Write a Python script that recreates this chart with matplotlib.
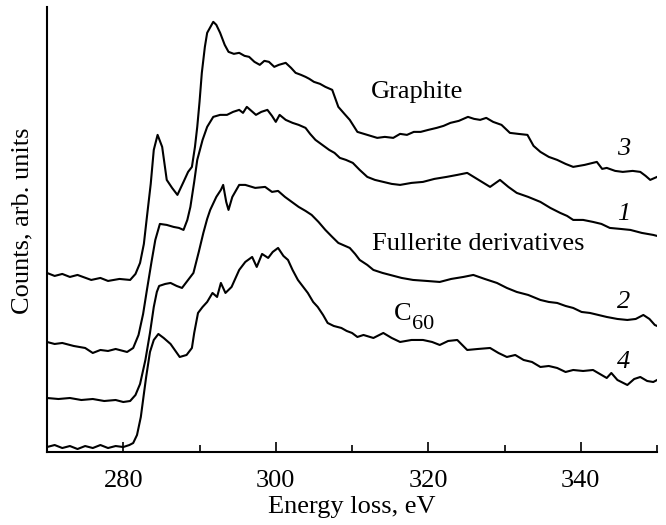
import matplotlib.pyplot as plt

plt.rcParams['font.family'] = ['Liberation Serif', 'DejaVu Serif']

# Spectra: energy loss (eV) and counts (arb. units, offset curves)
e4 = [270.0, 271.0, 272.0, 273.0, 274.0, 275.0, 276.0, 277.0, 278.0, 279.0, 280.0, 280.8, 281.3,
      281.8, 282.3, 282.7, 283.0, 283.5, 284.0, 284.6, 285.3, 286.2, 287.4, 288.3, 289.0, 289.3,
      289.8, 290.4, 291.0, 291.7, 292.3, 292.8, 293.4, 294.2, 295.2, 296.0, 296.9, 297.5, 298.2,
      299.0, 299.6, 300.3, 301.0, 301.6, 302.2, 302.9, 303.6, 304.2, 304.9, 305.5, 306.2, 306.8,
      307.6, 308.6, 309.3, 310.0, 310.7, 311.5, 312.8, 314.1, 315.2, 316.3, 317.8, 319.3, 320.5,
      321.5, 322.6, 323.8, 325.1, 326.5, 328.1, 329.2, 330.3, 331.4, 332.5, 333.6, 334.7, 335.8,
      336.9, 338.0, 339.0, 340.3, 341.6, 342.5, 343.4, 344.0, 344.8, 346.1, 347.0, 347.8, 348.7,
      349.5, 350.0]
c4 = [5, 7, 4, 6, 3, 6, 4, 7, 4, 6, 5, 7, 9, 17, 35, 58, 75, 100, 112, 118, 114, 108, 95, 97,
      104, 119, 139, 145, 150, 159, 155, 169, 159, 165, 182, 190, 195, 185, 198, 194, 200, 204,
      196, 192, 182, 172, 165, 159, 150, 145, 137, 129, 126, 124, 121, 119, 115, 117, 114, 119,
      114, 110, 112, 112, 110, 107, 111, 112, 102, 103, 104, 99, 95, 97, 92, 90, 85, 86, 84, 80,
      82, 81, 82, 78, 74, 79, 72, 67, 73, 75, 71, 70, 72]

e2 = [270.0, 271.5, 273.0, 274.5, 276.0, 277.5, 279.0, 280.0, 280.9, 281.6, 282.2, 282.9, 283.5,
      284.0, 284.4, 284.7, 285.5, 286.2, 287.0, 287.7, 288.5, 289.2, 289.9, 290.5, 291.0, 291.4,
      292.2, 292.8, 293.1, 293.5, 293.8, 294.3, 295.2, 296.0, 297.3, 298.6, 299.5, 300.3, 301.2,
      302.1, 303.0, 303.9, 304.7, 305.6, 306.5, 307.4, 308.2, 309.1, 309.7, 310.4, 311.0, 312.0,
      312.8, 314.0, 315.0, 316.5, 318.0, 319.8, 321.5, 323.0, 324.6, 325.9, 327.4, 329.0, 330.3,
      331.6, 333.1, 334.7, 335.8, 336.9, 338.0, 339.0, 340.1, 341.2, 342.3, 343.4, 344.8, 346.1,
      347.2, 348.2, 349.0, 349.7, 350.0]
c2 = [54, 53, 54, 52, 53, 51, 52, 50, 51, 57, 68, 92, 119, 145, 160, 166, 168, 169, 166, 164,
      172, 179, 200, 219, 233, 242, 255, 262, 267, 250, 242, 255, 267, 267, 264, 265, 260, 261,
      255, 250, 245, 241, 237, 230, 222, 215, 209, 206, 204, 198, 192, 187, 182, 179, 177, 174,
      172, 171, 170, 173, 175, 177, 173, 169, 164, 160, 157, 152, 150, 149, 146, 144, 140, 139,
      137, 135, 133, 132, 133, 137, 133, 127, 126]

e1 = [270.0, 271.0, 272.0, 273.5, 275.0, 276.0, 277.0, 278.0, 279.0, 280.5, 281.3, 282.0, 282.6,
      283.1, 283.7, 284.2, 284.8, 285.7, 286.6, 287.3, 287.9, 288.4, 288.8, 289.3, 289.7, 290.4,
      291.0, 291.8, 292.7, 293.6, 294.4, 295.2, 295.7, 296.2, 296.8, 297.4, 298.1, 298.9, 299.5,
      300.0, 300.5, 301.3, 302.2, 303.0, 303.9, 304.5, 305.2, 306.1, 307.0, 307.7, 308.4, 309.2,
      310.1, 311.0, 312.0, 313.0, 314.1, 315.2, 316.3, 317.8, 319.3, 320.8, 322.4, 323.8, 325.1,
      326.6, 328.1, 329.4, 330.5, 331.6, 333.1, 334.7, 336.0, 337.3, 338.2, 339.0, 340.3, 341.6,
      342.7, 343.8, 345.2, 346.5, 348.0, 349.5, 350.0]
c1 = [110, 108, 109, 106, 104, 99, 102, 101, 103, 100, 104, 117, 138, 162, 190, 212, 228, 227,
      225, 224, 222, 232, 245, 270, 292, 312, 325, 335, 337, 337, 340, 342, 339, 345, 341, 337,
      340, 342, 336, 330, 337, 332, 329, 327, 324, 318, 312, 307, 302, 299, 294, 292, 289, 282,
      275, 272, 270, 268, 267, 269, 270, 273, 275, 277, 279, 272, 265, 272, 265, 259, 255, 250,
      244, 239, 236, 232, 232, 230, 228, 224, 223, 222, 219, 217, 216]

e3 = [270.0, 271.0, 272.0, 273.0, 274.0, 275.8, 277.0, 278.0, 279.5, 280.9, 281.6, 282.2, 282.7,
      283.1, 283.6, 284.0, 284.5, 285.1, 285.7, 286.4, 287.1, 287.9, 288.5, 289.0, 289.4, 289.7,
      290.0, 290.3, 290.7, 291.0, 291.8, 292.2, 292.7, 293.3, 293.8, 294.5, 295.2, 295.9, 296.5,
      297.2, 297.9, 298.5, 299.1, 299.8, 300.4, 301.3, 302.0, 302.6, 303.3, 303.9, 304.4, 305.0,
      305.8, 306.5, 307.4, 308.2, 309.0, 309.7, 310.7, 312.0, 313.3, 314.3, 315.4, 316.3, 317.2,
      318.1, 319.0, 320.0, 321.1, 322.0, 322.9, 324.0, 325.2, 326.0, 326.8, 327.6, 328.5, 329.6,
      330.7, 331.8, 333.0, 333.8, 334.7, 335.8, 336.9, 338.0, 339.0, 340.5, 342.1, 342.8, 343.4,
      344.5, 345.5, 346.8, 347.8, 348.5, 349.1, 350.0]
c3 = [179, 176, 178, 175, 177, 172, 174, 171, 173, 172, 178, 189, 208, 235, 268, 302, 317, 305,
      272, 264, 257, 270, 280, 285, 305, 325, 350, 379, 405, 419, 430, 427, 419, 407, 400, 398,
      399, 396, 395, 390, 387, 391, 390, 385, 387, 389, 384, 379, 377, 375, 373, 370, 368, 365,
      362, 345, 338, 332, 320, 317, 314, 315, 314, 318, 317, 320, 320, 322, 324, 326, 329, 331,
      335, 333, 332, 334, 330, 327, 319, 318, 317, 306, 300, 295, 292, 288, 285, 287, 290, 283,
      284, 281, 280, 281, 280, 276, 272, 275]

tick_major = [280, 300, 320, 340]
tick_minor = [290, 310, 330, 350]

fig = plt.figure(figsize=(6.66, 5.25), dpi=100)
ax = fig.add_axes([0.0706, 0.139, 0.916, 0.848])

for e, c in [(e4, c4), (e2, c2), (e1, c1), (e3, c3)]:
    ax.plot(e, c, color='black', lw=1.5)

ax.set_xlim(270, 350)
ax.set_ylim(0, 445)
ax.set_xticks(tick_major)
ax.set_xticks(tick_minor, minor=True)
ax.set_yticks([])
ax.tick_params(axis='x', which='major', direction='in', length=7, width=1.2, labelsize=19, pad=13)
ax.tick_params(axis='x', which='minor', direction='in', length=5, width=1.2)
for s in ['top', 'right']:
    ax.spines[s].set_visible(False)
for s in ['left', 'bottom']:
    ax.spines[s].set_linewidth(1.5)

ax.set_xlabel('Energy loss, eV', fontsize=19, labelpad=3)
ax.set_ylabel('Counts, arb. units', fontsize=19)
ax.yaxis.set_label_coords(-0.023, 0.519)

ax.text(318.5, 360, 'Graphite', fontsize=19, ha='center', va='center')
ax.text(344.8, 303, '3', fontsize=19, ha='left', va='center', style='italic')
ax.text(344.8, 238, '1', fontsize=19, ha='left', va='center', style='italic')
ax.text(326.6, 208, 'Fullerite derivatives', fontsize=19, ha='center', va='center')
ax.text(344.8, 150, '2', fontsize=19, ha='left', va='center', style='italic')
ax.text(316.6, 138, 'C', fontsize=19, ha='center', va='center')
ax.text(317.8, 127, '60', fontsize=16, ha='left', va='center')
ax.text(344.8, 90, '4', fontsize=19, ha='left', va='center', style='italic')

plt.savefig('out.png', dpi=100)
